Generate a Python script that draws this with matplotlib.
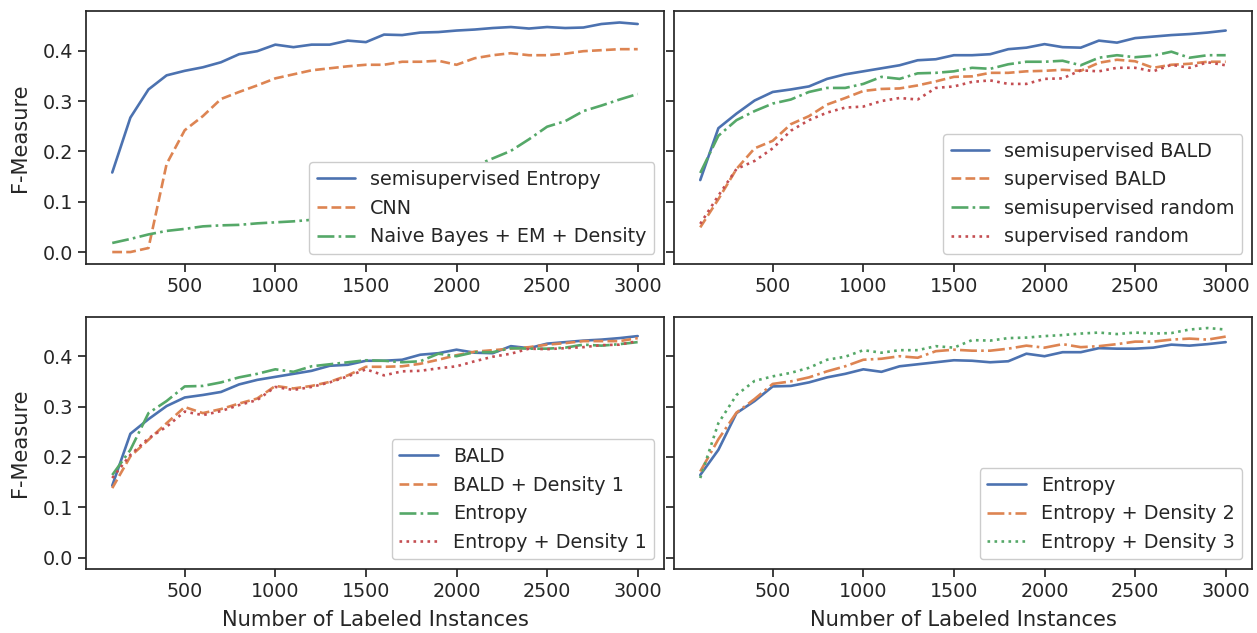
import matplotlib
matplotlib.use("Agg")
import matplotlib.pyplot as plt
import seaborn as sns
import numpy as np

# ---- data ----
n_labeled = list(range(100, 3001, 100))

semi_entropy = [0.158, 0.267, 0.323, 0.351, 0.360, 0.367, 0.377, 0.393, 0.399, 0.412,
                0.407, 0.412, 0.412, 0.420, 0.417, 0.432, 0.431, 0.436, 0.437, 0.440,
                0.442, 0.445, 0.447, 0.444, 0.447, 0.445, 0.446, 0.453, 0.456, 0.453]
cnn = [0.000, 0.000, 0.008, 0.175, 0.242, 0.270, 0.304, 0.318, 0.331, 0.345,
       0.353, 0.361, 0.365, 0.369, 0.372, 0.372, 0.378, 0.378, 0.380, 0.372,
       0.385, 0.391, 0.395, 0.391, 0.391, 0.394, 0.399, 0.401, 0.403, 0.403]
nb_em_density = [0.018, 0.026, 0.035, 0.042, 0.046, 0.051, 0.053, 0.054, 0.057, 0.059,
                 0.061, 0.064, 0.071, 0.080, 0.090, 0.100, 0.112, 0.125, 0.140, 0.155,
                 0.171, 0.186, 0.201, 0.224, 0.249, 0.260, 0.280, 0.291, 0.303, 0.314]

semi_bald = [0.143, 0.246, 0.275, 0.301, 0.318, 0.323, 0.329, 0.344, 0.353, 0.359,
             0.365, 0.371, 0.381, 0.383, 0.391, 0.391, 0.393, 0.403, 0.406, 0.413,
             0.407, 0.406, 0.420, 0.416, 0.425, 0.428, 0.431, 0.433, 0.436, 0.440]
sup_bald = [0.049, 0.105, 0.165, 0.206, 0.221, 0.254, 0.270, 0.293, 0.306, 0.320,
            0.324, 0.325, 0.331, 0.339, 0.348, 0.349, 0.356, 0.356, 0.359, 0.360,
            0.362, 0.360, 0.376, 0.382, 0.379, 0.366, 0.372, 0.374, 0.378, 0.378]
semi_random = [0.157, 0.231, 0.262, 0.280, 0.295, 0.303, 0.318, 0.326, 0.326, 0.334,
               0.348, 0.344, 0.355, 0.356, 0.359, 0.366, 0.364, 0.373, 0.378, 0.378,
               0.380, 0.371, 0.386, 0.391, 0.387, 0.390, 0.398, 0.386, 0.391, 0.391]
sup_random = [0.056, 0.112, 0.165, 0.181, 0.206, 0.241, 0.262, 0.277, 0.287, 0.289,
              0.300, 0.306, 0.303, 0.326, 0.329, 0.338, 0.341, 0.334, 0.334, 0.344,
              0.345, 0.361, 0.359, 0.366, 0.366, 0.359, 0.372, 0.366, 0.377, 0.371]

bald_density1 = [0.138, 0.201, 0.234, 0.267, 0.299, 0.287, 0.295, 0.306, 0.316, 0.341,
                 0.336, 0.341, 0.349, 0.362, 0.379, 0.379, 0.380, 0.385, 0.393, 0.402,
                 0.409, 0.412, 0.415, 0.418, 0.423, 0.426, 0.430, 0.430, 0.430, 0.436]
entropy = [0.164, 0.214, 0.287, 0.311, 0.340, 0.341, 0.348, 0.358, 0.365, 0.374,
           0.369, 0.380, 0.384, 0.388, 0.392, 0.391, 0.388, 0.390, 0.405, 0.400,
           0.408, 0.408, 0.416, 0.415, 0.415, 0.417, 0.423, 0.421, 0.424, 0.428]
entropy_density1 = [0.158, 0.204, 0.237, 0.260, 0.290, 0.283, 0.291, 0.303, 0.313, 0.339,
                    0.333, 0.339, 0.348, 0.360, 0.374, 0.362, 0.370, 0.371, 0.376, 0.380,
                    0.390, 0.399, 0.405, 0.415, 0.414, 0.416, 0.418, 0.422, 0.423, 0.430]
entropy_density2 = [0.171, 0.235, 0.288, 0.315, 0.345, 0.350, 0.358, 0.370, 0.380, 0.393,
                    0.395, 0.400, 0.397, 0.410, 0.413, 0.411, 0.411, 0.415, 0.421, 0.417,
                    0.424, 0.418, 0.420, 0.424, 0.429, 0.429, 0.433, 0.435, 0.433, 0.439]
entropy_density3 = semi_entropy

panels = [
    [("semisupervised Entropy", semi_entropy, "-"),
     ("CNN", cnn, "--"),
     ("Naive Bayes + EM + Density", nb_em_density, "-.")],
    [("semisupervised BALD", semi_bald, "-"),
     ("supervised BALD", sup_bald, "--"),
     ("semisupervised random", semi_random, "-."),
     ("supervised random", sup_random, ":")],
    [("BALD", semi_bald, "-"),
     ("BALD + Density 1", bald_density1, "--"),
     ("Entropy", entropy, "-."),
     ("Entropy + Density 1", entropy_density1, ":")],
    [("Entropy", entropy, "-"),
     ("Entropy + Density 2", entropy_density2, "-."),
     ("Entropy + Density 3", entropy_density3, ":")],
]

sns.set_theme(style="ticks", context="notebook", font_scale=1.25)
plt.rcParams.update({
    "xtick.labelsize": 13.8,
    "ytick.labelsize": 13.8,
    "axes.labelsize": 15.1,
    "legend.fontsize": 13.8,
})
colors = sns.color_palette("deep")

fig, axes = plt.subplots(2, 2, figsize=(12.57, 6.33), dpi=100, sharey=True)
fig.subplots_adjust(left=0.0684, right=0.996, top=0.9826, bottom=0.101,
                    wspace=0.0173, hspace=0.21)

for ax, series in zip(axes.flat, panels):
    for i, (label, vals, ls) in enumerate(series):
        ax.plot(n_labeled, vals, ls, color=colors[i], label=label, linewidth=1.9)
    ax.set_xticks([500, 1000, 1500, 2000, 2500, 3000])
    ax.set_yticks([0.0, 0.1, 0.2, 0.3, 0.4])
    ax.legend(loc="lower right", framealpha=1.0)

axes[0, 0].set_ylabel("F-Measure", labelpad=9)
axes[1, 0].set_ylabel("F-Measure", labelpad=9)
axes[1, 0].set_xlabel("Number of Labeled Instances", labelpad=6)
axes[1, 1].set_xlabel("Number of Labeled Instances", labelpad=6)

fig.savefig("out.png", dpi=100)
